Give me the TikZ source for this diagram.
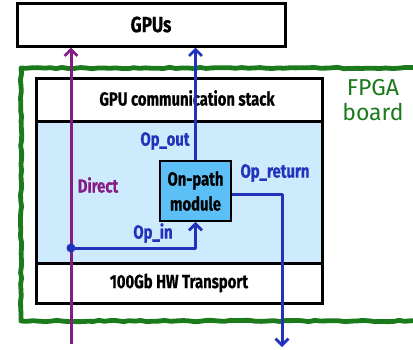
\documentclass[tikz,border=0pt]{standalone}
\usepackage{fontspec}
\usetikzlibrary{arrows.meta,decorations.pathmorphing}
\newfontfamily\cnd[FakeStretch=0.78,FakeBold=0.6]{Fira Sans}
\newfontfamily\rnd{Fira Sans}
\definecolor{boardgreen}{HTML}{1B7A1B}
\definecolor{pathblue}{HTML}{2233BB}
\definecolor{directpurple}{HTML}{861A86}
\definecolor{zonefill}{HTML}{CDEBFC}
\definecolor{modfill}{HTML}{5CC0F7}
\tikzset{
  blk/.style={draw=black, line width=3pt, fill=white, inner sep=0pt},
  lbl/.style={font=\cnd\bfseries\fontsize{19}{21}\selectfont, inner sep=0pt},
  bluelbl/.style={lbl, text=pathblue},
  tip/.style={-{Straight Barb[length=6.5pt,width=13pt,line width=2.8pt]}},
  bluewire/.style={draw=pathblue, line width=3pt},
}
\begin{document}
\begin{tikzpicture}[x=1pt,y=-1pt]
\useasboundingbox (0,0) rectangle (413,349);
% FPGA board outline, hand drawn
\draw[boardgreen, line width=4.8pt, line join=round,
  decorate, decoration={random steps, segment length=6pt, amplitude=0.7pt}]
  (440,68) -- (21,68) -- (21,321) -- (440,321);
\node[font=\rnd\fontsize{23}{25}\selectfont, text=boardgreen, align=center, inner sep=0pt]
  (board) at (373,100) {FPGA\\board};
% GPUs
\node[blk, minimum width=268pt, minimum height=43pt, font=\cnd\bfseries\fontsize{22}{24}\selectfont]
  (gpus) at (151,24.5) {GPUs};
% card stack
\node[blk, minimum width=286pt, minimum height=225pt] (card) at (179,190.5) {};
\node[draw=black!80, line width=1.2pt, fill=zonefill, minimum width=285pt, minimum height=142pt, inner sep=0pt]
  (zone) at (179,192) {};
\node[lbl] (stack) at (187,98) {GPU communication stack};
\node[lbl] (hw) at (179,283) {100Gb HW Transport};
\draw[black, line width=3pt] (36,78) rectangle (322,303);
\draw[black, line width=3pt] (36,121) -- (322,121);
\draw[black, line width=3pt] (36,263) -- (322,263);
% on-path module
\node[draw=black, line width=1.8pt, fill=modfill, minimum width=71pt, minimum height=60pt,
  align=center, font=\cnd\bfseries\fontsize{19}{25}\selectfont, inner sep=0pt]
  (mod) at (195.5,191) {On-path\\module};
% direct path
\coordinate (dbot) at (71,344);
\draw[directpurple, line width=3pt, tip] (dbot) -- (dbot |- gpus.south);
\node[lbl, text=directpurple] (direct) at (98,185) {Direct};
% op paths
\draw[bluewire, tip] (mod.north) -- (mod.north |- gpus.south);
\node[bluelbl] (opout) at (165,141) {Op\_out};
\coordinate (rturn) at (282,194);
\coordinate (rend) at (282,347);
\draw[bluewire, tip, line join=round] (mod.east |- rturn) -- (rturn) -- (rend);
\node[bluelbl] (opret) at (275,173) {Op\_return};
\coordinate (split) at (71,248);
\draw[bluewire, tip, line join=round] (split) -- (mod.south |- split) -- (mod.south);
\fill[pathblue] (split) circle (4.5pt);
\node[bluelbl] (opin) at (153,233) {Op\_in};
\end{tikzpicture}
\end{document}
